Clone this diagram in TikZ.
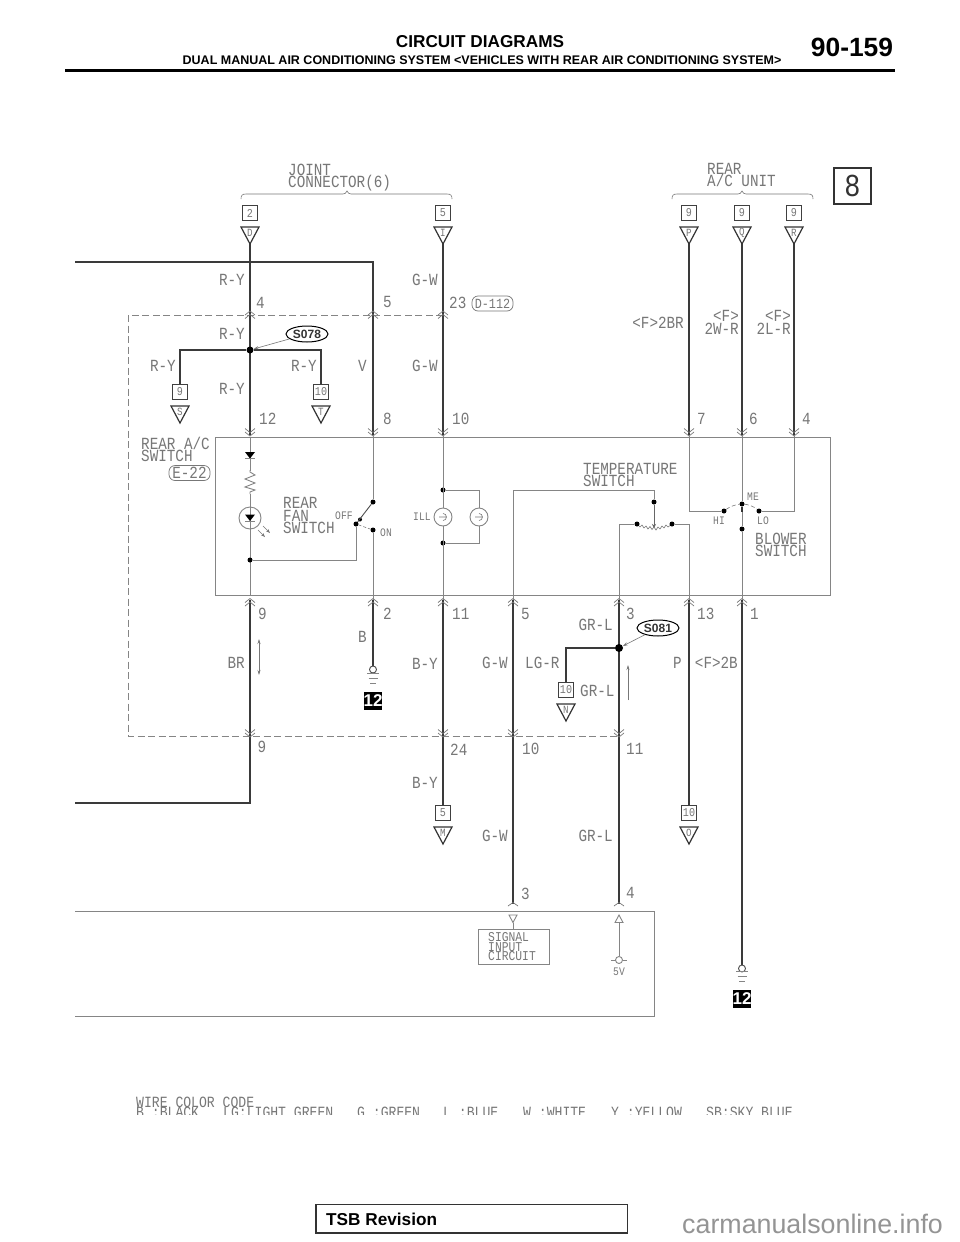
\documentclass[tikz,border=0pt]{standalone}
\usepackage{fontspec}
\setmainfont{Liberation Sans}
\newfontfamily\cadf[FakeStretch=0.84]{Liberation Mono}
\definecolor{inkg}{HTML}{777777}
\definecolor{thing}{HTML}{858585}
\definecolor{wireg}{HTML}{3A3A3A}
\newcounter{lblc}
\tikzset{
  x=1pt,y=-1pt,
  cad/.style={inner sep=0pt,text=inkg,font=\cadf\fontsize{17}{17}\selectfont,yshift=-5.6pt},
  cadmd/.style={inner sep=0pt,text=inkg,font=\cadf\fontsize{13.5}{13.5}\selectfont,yshift=-4.4pt},
  cadcode/.style={inner sep=0pt,text=inkg,font=\cadf\fontsize{15.6}{15.6}\selectfont,yshift=-5pt},
  cadsm/.style={inner sep=0pt,text=inkg,font=\cadf\fontsize{11.5}{11.5}\selectfont,yshift=-3.8pt},
  thin line/.style={draw=thing,line width=.9pt},
  wire/.style={draw=wireg,line width=1.7pt,line join=miter},
  hair/.style={draw=inkg,line width=.6pt},
  chev/.style={draw=inkg,line width=.7pt},
  dashbox/.style={draw=thing,line width=.7pt,dash pattern=on 7pt off 3.5pt},
  connb/.style={draw=black!75,line width=1.2pt,minimum size=15pt,inner sep=0pt,text=inkg,font=\cadf\fontsize{12}{12}\selectfont},
  trip/.style={draw=black!80,line width=1.2pt,line join=miter},
  triL/.style={inner sep=0pt,text=inkg,font=\cadf\fontsize{11}{11}\selectfont},
  jdot/.style={circle,fill=black,inner sep=0pt,minimum size=5pt},
  bigdot/.style={circle,fill=black,inner sep=0pt,minimum size=8pt},
  blkbox/.style={fill=black,minimum width=18pt,minimum height=18pt,inner sep=0pt,text=white,font=\bfseries\fontsize{17}{17}\selectfont},
  splice/.style={ellipse,draw=black,line width=1pt,minimum width=42pt,minimum height=16pt,inner sep=0pt,text=black!80,font=\bfseries\fontsize{12}{12}\selectfont},
  badge/.style={draw=inkg,line width=.7pt,rounded corners=6pt,minimum width=41pt,minimum height=15pt,inner sep=0pt,text=inkg},
}
\usetikzlibrary{shapes.geometric,arrows.meta,calc}
\newcommand{\tl}[4][cad]{\stepcounter{lblc}\node[#1,anchor=base west] (lbl\arabic{lblc}) at (#2,#3) {#4};}
\newcommand{\tr}[4][cad]{\stepcounter{lblc}\node[#1,anchor=base east] (lbl\arabic{lblc}) at (#2,#3) {#4};}
\newcommand{\tc}[4][cad]{\stepcounter{lblc}\node[#1,anchor=base] (lbl\arabic{lblc}) at (#2,#3) {#4};}
% connector: name, x, box centre y, number, letter
\newcommand{\cnx}[5]{%
  \node[connb] (#1box) at (#2,#3) {#4};
  \draw[trip] ($(#1box.center)+(-9,14)$) -- ($(#1box.center)+(9,14)$) -- ($(#1box.center)+(0,31)$) -- cycle;
  \node[triL] (#1let) at ($(#1box.center)+(0,20)$) {#5};
  \coordinate (#1ap) at ($(#1box.center)+(0,31)$);}
\newcommand{\chevu}[2]{\draw[chev] (#1-5,#2+4)--(#1,#2)--(#1+5,#2+4) (#1-5,#2+7.5)--(#1,#2+3.5)--(#1+5,#2+7.5);}
\newcommand{\chevd}[2]{\draw[chev] (#1-5,#2-4)--(#1,#2)--(#1+5,#2-4) (#1-5,#2-7.5)--(#1,#2-3.5)--(#1+5,#2-7.5);}
\newcommand{\bulb}[2]{\draw[thin line] (#1,#2) circle[radius=9pt];
  \draw[hair] (#1-4,#2)--(#1+3,#2) (#1,#2-3.5) arc[start angle=90,end angle=-90,radius=3.5pt];}
\begin{document}
\begin{tikzpicture}
\useasboundingbox (0,0) rectangle (960,1242);
\fill[white] (0,0) rectangle (960,1242);
% ---------- header
\node[inner sep=0pt,font=\bfseries\fontsize{17.2}{17.2}\selectfont] (h1) at (480,42) {CIRCUIT DIAGRAMS};
\node[inner sep=0pt,font=\bfseries\fontsize{12.5}{12.5}\selectfont] (h2) at (482,60) {DUAL MANUAL AIR CONDITIONING SYSTEM <VEHICLES WITH REAR AIR CONDITIONING SYSTEM>};
\node[inner sep=0pt,font=\bfseries\fontsize{26.4}{26.4}\selectfont] (h3) at (852,47) {90-159};
\draw[line width=3pt] (65,70.5)--(895,70.5);
% ---------- page box
\node[draw=black!80,line width=1.2pt,minimum width=37pt,minimum height=36pt,inner sep=0pt,text=black!80,font=\cadf\fontsize{32}{32}\selectfont] (pg8) at (852.5,186) {8};
% ---------- main frames
\draw[thin line] (215,437) rectangle (830,595);
\draw[dashbox] (443,315)--(128,315)--(128,736)--(619,736);
\draw[thin line] (75,911)--(654,911)--(654,1016)--(75,1016);
% ---------- braces
\draw[hair] (241,199) .. controls (241,195.5) and (242,194) .. (246,194) -- (343,194) .. controls (345,194) and (346,193) .. (347,191) .. controls (348,193) and (349,194) .. (351,194) -- (447,194) .. controls (451,194) and (452,195.5) .. (452,199);
\draw[hair] (672,199) .. controls (672,195.5) and (673,194) .. (677,194) -- (738,194) .. controls (740,194) and (741,193) .. (742,191) .. controls (743,193) and (744,194) .. (746,194) -- (808,194) .. controls (812,194) and (813,195.5) .. (813,199);
\tl{288}{170}{JOINT}
\tl{288}{182}{CONNECTOR(6)}
\tl{707}{169}{REAR}
\tl{707}{181}{A/C UNIT}
% ---------- connectors
\cnx{D}{250}{213}{2}{D}
\cnx{I}{443}{213}{5}{I}
\cnx{P}{689}{213}{9}{P}
\cnx{Q}{742}{213}{9}{Q}
\cnx{R}{794}{213}{9}{R}
\cnx{S}{180}{392}{9}{S}
\cnx{T}{321}{392}{10}{T}
\cnx{N}{566}{690}{10}{N}
\cnx{M}{443}{813}{5}{M}
\cnx{O}{689}{813}{10}{O}
% ---------- coordinates
\coordinate (ltop) at (75,262);
\coordinate (lturn) at (373,262);
\foreach \n/\x in {p12/250,p8/373,p10/443,p7/689,p6/742,p4/794}{\coordinate (\n) at (\x,435);}
\foreach \n/\x in {q9/250,q2/373,q11/443,q5/513,q3/619,q13/689,q1/742}{\coordinate (\n) at (\x,600);}
\coordinate (lbot) at (75,803);
\coordinate (bturn) at (250,803);
\coordinate (g1) at (373,666);
\coordinate (g2) at (742,965);
\coordinate (e3) at (513,904);
\coordinate (e4) at (619,904);
% ---------- wires above the switch
\draw[wire] (Dap)--(p12);
\draw[wire] (ltop)--(lturn)--(p8);
\draw[wire] (Iap)--(p10);
\draw[wire] (Pap)--(p7);
\draw[wire] (Qap)--(p6);
\draw[wire] (Rap)--(p4);
\node[jdot,minimum size=7pt] (j78) at (250,350) {};
\draw[wire] (Sbox.north) |- (j78);
\draw[wire] (j78) -| (Tbox.north);
\node[splice] (s78) at (307,334) {S078};
\draw[hair,-{Stealth[length=5pt,width=3pt]}] (s78) -- (j78);
% ---------- wires below the switch
\draw[wire] (q9)--(bturn)--(lbot);
\draw[wire] (q2)--(g1);
\draw[wire] (q11)--(Mbox.north);
\draw[wire] (q5)--(e3);
\draw[wire] (q3)--(e4);
\draw[wire] (q13)--(Obox.north);
\draw[wire] (q1)--(g2);
\node[bigdot] (j81) at (619,648) {};
\draw[wire] (j81) -| (Nbox.north);
\node[splice] (s81) at (658,628) {S081};
\draw[hair,-{Stealth[length=5pt,width=3pt]}] (s81) -- (j81);
% ---------- chevrons
\foreach \x in {250,373,443}{\chevu{\x}{311}}
\foreach \x in {250,373,443,689,742,794}{\chevd{\x}{436}}
\foreach \x in {250,373,443,513,619,689,742}{\chevu{\x}{598.5}}
\foreach \x in {250,443,513,619}{\chevd{\x}{737}}
\draw[chev] (508,906)--(513,902.5)--(518,906);
\draw[chev] (614,906)--(619,902.5)--(624,906);
% ---------- labels above the switch
\tr{245}{280}{R-Y}
\tr{438}{280}{G-W}
\tl{256}{303}{4}
\tl{383}{302}{5}
\tl{449}{303}{23}
\node[badge,font=\cadf\fontsize{14}{14}\selectfont] (d112) at (492.5,303.5) {D-112};
\tr{245}{334}{R-Y}
\tr{176}{366}{R-Y}
\tr{317}{366}{R-Y}
\tl{358}{366}{V}
\tr{438}{366}{G-W}
\tr{245}{389}{R-Y}
\tl{259}{419}{12}
\tl{383}{419}{8}
\tl{452}{419}{10}
\tr{684}{323}{<F>2BR}
\tc{726}{316}{<F>}
\tr{739}{329}{2W-R}
\tc{778}{316}{<F>}
\tr{791}{329}{2L-R}
\tl{697}{419}{7}
\tl{749}{419}{6}
\tl{802}{419}{4}
% ---------- rear a/c switch
\tl{141}{444}{REAR A/C}
\tl{141}{456}{SWITCH}
\node[badge,font=\cadf\fontsize{17}{17}\selectfont] (e22) at (189.5,473) {E-22};
\coordinate (xa) at (250,437);
\coordinate (xb) at (250,595);
\draw[thin line] (xa)--(xb);
\fill[black] (245,452)--(255,452)--(250,458.5)--cycle;
\draw[thin line] (245,458.7)--(255,458.7);
\draw[fill=white,draw=white] (245,471) rectangle (255,493);
\draw[thin line] (250,470)--(250,472)--(255,475)--(245,479)--(255,483)--(245,487)--(255,490)--(250,492)--(250,494);
\draw[thin line,fill=white] (250,518) circle[radius=11pt];
\draw[thin line] (250,507)--(250,529);
\fill[black] (245,514.5)--(255,514.5)--(250,521)--cycle;
\draw[thin line] (245,521.3)--(255,521.3);
\draw[hair,-{Stealth[length=4pt,width=3pt]}] (263,526)--(270,533);
\draw[hair,-{Stealth[length=4pt,width=3pt]}] (258,530)--(265,537);
\node[jdot] (led) at (250,560) {};
\node[jdot] (swc) at (356,524) {};
\node[jdot] (swoff) at (373,502) {};
\node[jdot] (swon) at (373,530) {};
\node[jdot,minimum size=4pt] (swm) at (360,519.5) {};
\draw[thin line] (led) -| (swc);
\draw[draw=black!70,line width=.9pt] (swc)--(swoff);
\draw[hair,densely dashed] (swc)--(swon);
\draw[thin line] (p8)--(swoff);
\draw[thin line] (swon)--(q2);
\tl{283}{503}{REAR}
\tl{283}{516}{FAN}
\tl{283}{528}{SWITCH}
\tl[cadsm]{335}{516}{OFF}
\tl[cadsm]{380}{533}{ON}
\tl[cadsm]{413}{517}{ILL}
% bulbs
\node[jdot] (b1) at (443,490) {};
\node[jdot] (b2) at (443,543) {};
\coordinate (b3) at (479,508);
\coordinate (b4) at (479,526);
\coordinate (b5) at (443,508);
\coordinate (b6) at (443,526);
\draw[thin line] (p10)--(b5);
\draw[thin line] (b6)--(q11);
\draw[thin line] (b1) -| (b3);
\draw[thin line] (b2) -| (b4);
\bulb{443}{517}
\bulb{479}{517}
% temperature switch
\tl{583}{469}{TEMPERATURE}
\tl{583}{481}{SWITCH}
\node[jdot] (t1) at (654,502) {};
\node[jdot] (t2) at (637,524) {};
\node[jdot] (t3) at (672,524) {};
\draw[thin line] (q5) |- ($(t1)+(0,-12)$) -- (t1);
\draw[draw=black!60,line width=.8pt,-{Stealth[length=4pt,width=4pt]}] (t1)--(654,528);
\draw[hair] (t2)--(640,527)--(642,525)--(644,528)--(646,526)--(648,529)--(650,526.5)--(652,529.5)--(654,527)--(656,530)--(658,527)--(660,529)--(662,526)--(664,528)--(666,525)--(668,527)--(t3);
\draw[thin line] (q3) |- (t2);
\draw[thin line] (q13) |- (t3);
% blower switch
\node[jdot] (hi) at (724,511) {};
\node[jdot] (lo) at (759,511) {};
\node[jdot] (me) at (742,504) {};
\node[jdot] (cm) at (742,529) {};
\draw[thin line] (p7) |- (hi);
\draw[thin line] (p4) |- (lo);
\draw[thin line] (p6)--(me);
\draw[thin line] (cm)--(q1);
\draw[draw=black!80,line width=1.1pt] (me)--(742,512);
\draw[thin line] (742,512)--(cm);
\draw[hair,dash pattern=on 4pt off 2.5pt] (hi) .. controls (730,506.5) and (736,504.5) .. (me) .. controls (748,504.5) and (754,506.5) .. (lo);
\tl[cadsm]{747}{497}{ME}
\tl[cadsm]{713}{521}{HI}
\tl[cadsm]{757}{521}{LO}
\tl{755}{539}{BLOWER}
\tl{755}{551}{SWITCH}
% ---------- labels below the switch
\tl{258}{614}{9}
\tl{383}{614}{2}
\tl{452}{614}{11}
\tl{521}{614}{5}
\tl{626}{614}{3}
\tl{697}{614}{13}
\tl{750}{614}{1}
\tl{358}{637}{B}
\tr{245}{663}{BR}
\tr{438}{664}{B-Y}
\tr{508}{663}{G-W}
\tl{525}{663}{LG-R}
\tr{613}{625}{GR-L}
\tl{580}{691}{GR-L}
\tl{673}{663}{P}
\tr{738}{663}{<F>2B}
\coordinate (ar1) at (259,639);
\coordinate (ar2) at (259,675);
\draw[hair,{Stealth[length=5pt,width=3pt]}-{Stealth[length=5pt,width=3pt]}] (ar1)--(ar2);
\coordinate (ar3) at (628,700);
\coordinate (ar4) at (628,665);
\draw[hair,-{Stealth[length=5pt,width=3pt]}] (ar3)--(ar4);
% ground 1
\draw[thin line,draw=black!70] (373,669.5) circle[radius=3.5pt];
\draw[thin line] (367,673.5)--(379,673.5) (368.5,678.5)--(377.5,678.5) (370,683)--(376,683);
\node[blkbox] (g12a) at (373,700.5) {12};
% ground 2
\draw[thin line,draw=black!70] (742,968.5) circle[radius=3.5pt];
\draw[thin line] (736,971.5)--(748,971.5) (737.5,976.5)--(746.5,976.5) (739,981)--(745,981);
\node[blkbox] (g12b) at (742,999) {12};
% ---------- lower part
\tc{262}{747}{9}
\tl{450}{750}{24}
\tl{522}{749}{10}
\tl{626}{749}{11}
\tr{438}{783}{B-Y}
\tr{508}{836}{G-W}
\tr{613}{836}{GR-L}
\tl{521}{894}{3}
\tl{626}{893}{4}
\node[draw=thing,line width=.9pt,minimum width=71pt,minimum height=35pt,inner sep=0pt] (sig) at (513.5,946.5) {};
\tl[cadmd]{488}{937}{SIGNAL}
\tl[cadmd]{488}{947}{INPUT}
\tl[cadmd]{488}{956.5}{CIRCUIT}
\draw[thin line] (509,915)--(517,915)--(513,922.5)--cycle;
\coordinate (sg) at (513,922.5);
\draw[thin line] (sg)--(sig.north -| sg);
\draw[thin line] (615,922.5)--(623,922.5)--(619,915)--cycle;
\coordinate (vt) at (619,922.5);
\node[circle,draw=thing,line width=.9pt,minimum size=7pt,inner sep=0pt] (vc) at (619,960) {};
\draw[thin line] (vt)--(vc);
\draw[thin line] (611,960)--(615.5,960) (622.5,960)--(627,960);
\tc[cadsm]{619}{972}{5V}
% ---------- wire colour code
\begin{scope}
\clip (120,1090) rectangle (820,1114);
\tl[cadcode]{136}{1102}{WIRE COLOR CODE}
\tl[cadcode]{136}{1112.5}{B :BLACK}
\tl[cadcode]{223}{1112.5}{LG:LIGHT GREEN}
\tl[cadcode]{357}{1112.5}{G :GREEN}
\tl[cadcode]{443}{1112.5}{L :BLUE}
\tl[cadcode]{523}{1112.5}{W :WHITE}
\tl[cadcode]{611}{1112.5}{Y :YELLOW}
\tl[cadcode]{706}{1112.5}{SB:SKY BLUE}
\end{scope}
% ---------- footer
\draw[black!80,line width=1.1pt] (316,1204.5) rectangle (627.5,1233);
\node[inner sep=0pt,anchor=west,font=\bfseries\fontsize{17.2}{17.2}\selectfont] (tsb) at (326,1219) {TSB Revision};
\node[inner sep=0pt,anchor=base west,text=black!42,font=\fontsize{26.8}{26.8}\selectfont] (wm) at (682,1233) {carmanualsonline.info};
\end{tikzpicture}
\end{document}
